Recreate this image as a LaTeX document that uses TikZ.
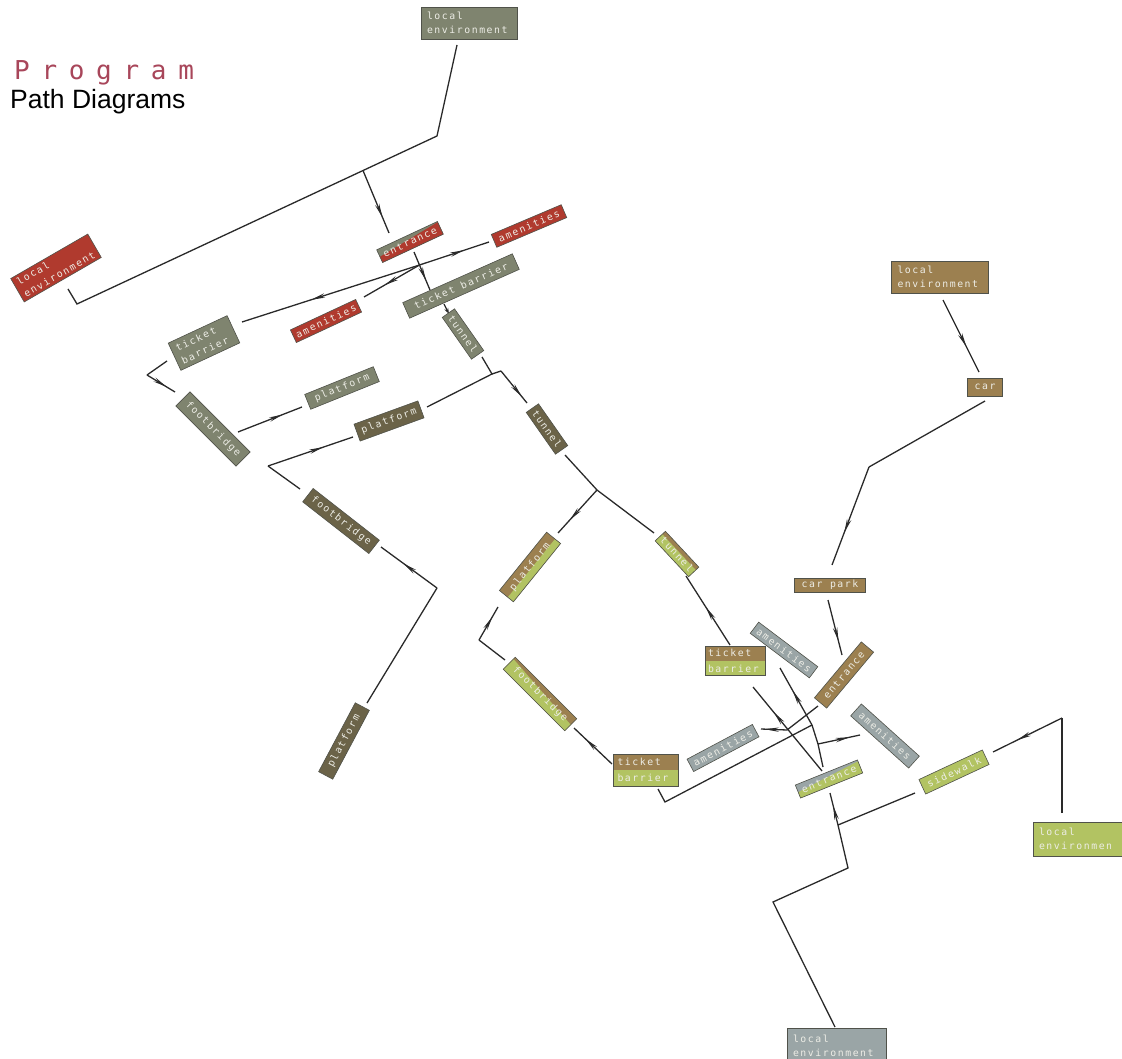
\documentclass[tikz,border=0pt]{standalone}
\usepackage{fontspec}
\setmainfont{Liberation Sans}
\newfontfamily\labfont[LetterSpace=16]{DejaVu Sans Mono}
\newfontfamily\titfont[LetterSpace=45]{DejaVu Sans Mono}
\usetikzlibrary{arrows.meta,decorations.markings,calc}
\pgfdeclarelayer{bgl}\pgfdeclarelayer{fills}\pgfsetlayers{bgl,fills,main}
\definecolor{gg}{HTML}{7F846F}
\definecolor{rd}{HTML}{B03A2E}
\definecolor{dk}{HTML}{6B6348}
\definecolor{br}{HTML}{9C8050}
\definecolor{lm}{HTML}{B2C362}
\definecolor{bl}{HTML}{9AA5A6}
\definecolor{bd}{HTML}{50524A}
\definecolor{tx}{HTML}{EDEDE6}
\definecolor{lnc}{HTML}{2A2A2A}
\definecolor{titc}{HTML}{A8465A}
\newcommand\labsz{\labfont\fontsize{9.8}{14}\selectfont}
\newcommand\labszb{\labfont\fontsize{9.8}{16}\selectfont}
\newcommand\twotone[5]{%
 \begin{pgfonlayer}{fills}
 \fill[#2] (#1.north west) -- (#1.north east) -- (#1.south east) -- (#1.south west) -- cycle;
 \fill[#3] (#1.south west) -- (#1.south east) -- ($(#1.south east)!#5!(#1.north east)$) -- ($(#1.south west)!#4!(#1.north west)$) -- cycle;
 \end{pgfonlayer}}
\begin{document}
\begin{tikzpicture}[x=1pt,y=-1pt,
 box/.style={draw=bd, line width=0.6pt, inner sep=0pt, outer sep=0pt, text=tx, font=\labsz},
 ln/.style={draw=lnc, line width=1.3pt},
 mid/.style={postaction={decorate}, decoration={markings, mark=at position #1 with {\arrow{Stealth[length=14pt,width=4.4pt]}}}},
 tipend/.style={-{Stealth[length=6pt,width=4pt]}},
]
\useasboundingbox (0,0) rectangle (1122,1059);

% titles
\node[anchor=base west, inner sep=0pt, text=titc, font=\titfont\fontsize{26}{30}\selectfont] (title) at (14,80) {Program};
\node[anchor=base west, inner sep=0pt, font=\fontsize{26.5}{30}\selectfont] (sub) at (10,109) {Path Diagrams};

% grey-green / red group
\node[box, fill=gg, minimum width=96pt, minimum height=32pt, align=left, text width=84pt] (topenv) at (469,23) {local\\environment};
\node[box, fill=rd, minimum width=89pt, minimum height=27pt, align=left, text width=81pt, rotate=30] (redenv) at (56,268) {local\\environment};
\node[box, minimum width=67pt, minimum height=14pt, rotate=25] (ent1) at (410,242) {entrance};
\twotone{ent1}{gg}{rd}{0.45}{0.95}
\node[box, fill=rd, minimum width=76pt, minimum height=14pt, rotate=23] (amR1) at (529,226) {amenities};
\node[box, fill=gg, minimum width=120pt, minimum height=17pt, rotate=24] (tbar1) at (461,286) {ticket barrier};
\node[box, fill=rd, minimum width=72pt, minimum height=14pt, rotate=25] (amR2) at (326,321) {amenities};
\node[box, fill=gg, minimum width=65pt, minimum height=30pt, align=left, text width=55pt, rotate=25] (tbar2) at (204,343) {ticket\\barrier};
\node[box, fill=gg, minimum width=85pt, minimum height=20pt, rotate=-45] (foot1) at (213,429) {footbridge};
\node[box, fill=gg, minimum width=74pt, minimum height=16pt, rotate=22] (plat1) at (342,388) {platform};
\node[box, fill=gg, minimum width=51pt, minimum height=15pt, rotate=-55] (tun1) at (463,334) {tunnel};

% dark olive group
\node[box, fill=dk, minimum width=68pt, minimum height=18pt, rotate=20] (plat2) at (389,421) {platform};
\node[box, fill=dk, minimum width=51pt, minimum height=15pt, rotate=-55] (tun2) at (547,429) {tunnel};
\node[box, fill=dk, minimum width=84pt, minimum height=17pt, rotate=-38] (foot2) at (341,521) {footbridge};
\node[box, fill=dk, minimum width=78pt, minimum height=16pt, rotate=62] (plat3) at (344,741) {platform};

% brown / green group
\node[box, minimum width=75pt, minimum height=18pt, rotate=51] (plat4) at (530,567) {platform};
\twotone{plat4}{br}{lm}{0.4}{0.4}
\node[box, minimum width=49pt, minimum height=14pt, rotate=-47] (tun3) at (677,554) {tunnel};
\twotone{tun3}{br}{lm}{0.7}{0.7}
\node[box, minimum width=87pt, minimum height=17pt, rotate=-45] (foot3) at (540,694) {footbridge};
\twotone{foot3}{br}{lm}{0.85}{0.5}
\node[box, minimum width=65pt, minimum height=32pt, align=left, text width=57pt, font=\labszb] (tbar3) at (646,770) {ticket\\barrier};
\twotone{tbar3}{br}{lm}{0.5}{0.5}
\node[box, minimum width=60pt, minimum height=29pt, align=left, text width=54pt, font=\labszb] (tbar4) at (735,661) {ticket\\barrier};
\twotone{tbar4}{br}{lm}{0.5}{0.5}
\node[box, fill=br, minimum width=71pt, minimum height=14pt] (carpark) at (830,585) {car park};
\node[box, fill=br, minimum width=73pt, minimum height=16pt, rotate=50] (ent2) at (844,675) {entrance};
\node[box, fill=br, minimum width=97pt, minimum height=32pt, align=left, text width=85pt] (envBr) at (940,277) {local\\environment};
\node[box, fill=br, minimum width=35pt, minimum height=18pt] (car) at (985,387) {car};

% blue-grey / green group
\node[box, fill=bl, minimum width=74pt, minimum height=14pt, rotate=-37] (amB1) at (784,650) {amenities};
\node[box, fill=bl, minimum width=74pt, minimum height=14pt, rotate=28] (amB2) at (723,748) {amenities};
\node[box, fill=bl, minimum width=78pt, minimum height=16pt, rotate=-42] (amB3) at (885,736) {amenities};
\node[box, minimum width=67pt, minimum height=14pt, rotate=22] (ent3) at (829,779) {entrance};
\twotone{ent3}{bl}{lm}{0.45}{0.9}
\node[box, fill=lm, minimum width=70pt, minimum height=16pt, rotate=25] (side) at (954,772) {sidewalk};
\node[box, fill=lm, minimum width=100pt, minimum height=34pt, align=left, text width=88pt] (envG) at (1083,839) {local\\environmen};
\node[box, fill=bl, minimum width=99pt, minimum height=36pt, align=left, text width=87pt] (envB) at (836.5,1046) {local\\environment};

% connector points
\coordinate (te1) at (457,45); \coordinate (te2) at (437,136); \coordinate (te3) at (77,304); \coordinate (te4) at (68,289);
\coordinate (j0) at (363,170.5); \coordinate (e1a) at (389,233);
\coordinate (e1b) at (414,252); \coordinate (tb1a) at (430,290); \coordinate (j1) at (419.5,265);
\coordinate (ar1) at (489,242); \coordinate (tb2a) at (242,322); \coordinate (am2a) at (364,297);
\coordinate (tb1b) at (444,304); \coordinate (tun1a) at (449,314);
\coordinate (tb2b) at (167,361); \coordinate (k1) at (147,375); \coordinate (fb1a) at (175,392);
\coordinate (fb1b) at (238,432); \coordinate (pl1a) at (302,407);
\coordinate (tun1b) at (482,357); \coordinate (j2) at (492,374); \coordinate (j2b) at (501,371);
\coordinate (tun2a) at (527,403); \coordinate (pl2a) at (427,407);
\coordinate (pl2b) at (353,437); \coordinate (k2) at (268,466); \coordinate (fb2a) at (300,489);
\coordinate (fb2b) at (381,547); \coordinate (k3) at (437,588); \coordinate (pl3a) at (367,703);
\coordinate (tun2b) at (565,455); \coordinate (j3) at (597,490); \coordinate (pl4a) at (558,533); \coordinate (tun3a) at (654,533);
\coordinate (tun3b) at (686,576); \coordinate (tb4a) at (730,645);
\coordinate (pl4b) at (498,607); \coordinate (k4) at (479,640); \coordinate (fb3a) at (505,660);
\coordinate (fb3b) at (574,728); \coordinate (tb3a) at (612,764);
\coordinate (tb3b) at (658,789); \coordinate (k5) at (665,802); \coordinate (j6) at (812,725);
\coordinate (amB1a) at (780,668); \coordinate (j7) at (818,744); \coordinate (ent3a) at (823,767); \coordinate (amB3a) at (860,735);
\coordinate (ent2a) at (818,706); \coordinate (j5) at (787,730); \coordinate (amB2a) at (761,729);
\coordinate (tb4b) at (753,687); \coordinate (ent3b) at (822,771);
\coordinate (ent3c) at (830,793); \coordinate (j4) at (838,825); \coordinate (k6) at (848,868); \coordinate (k7) at (773,902); \coordinate (envBa) at (835,1027);
\coordinate (sw1) at (915,793); \coordinate (sw2) at (993,752); \coordinate (k8) at (1062,718); \coordinate (envGa) at (1062,813);
\coordinate (envBra) at (943,300); \coordinate (cara) at (979,372);
\coordinate (carb) at (985,401); \coordinate (k9) at (869,467); \coordinate (cpa) at (832,565);
\coordinate (cpb) at (828,600); \coordinate (ent2b) at (842,655);

\begin{pgfonlayer}{bgl}
\draw[ln] (te1) -- (te2) -- (te3) -- (te4);
\draw[ln, mid=0.75] (j0) -- (e1a);
\draw[ln, mid=0.75] (e1b) -- (tb1a);
\draw[ln, mid=0.64] (j1) -- (ar1);
\draw[ln, mid=0.61] (j1) -- (tb2a);
\draw[ln, mid=0.63] (j1) -- (am2a);
\draw[ln, tipend] (tb1b) -- (tun1a);
\draw[ln] (tb2b) -- (k1);
\draw[ln, mid=0.7] (k1) -- (fb1a);
\draw[ln, mid=0.7] (fb1b) -- (pl1a);
\draw[ln] (tun1b) -- (j2) -- (pl2a);
\draw[ln] (j2) -- (j2b);
\draw[ln, mid=0.8] (j2b) -- (tun2a);
\draw[ln] (fb2a) -- (k2);
\draw[ln, mid=0.65] (k2) -- (pl2b);
\draw[ln] (pl3a) -- (k3);
\draw[ln, mid=0.6] (k3) -- (fb2b);
\draw[ln] (tun2b) -- (j3) -- (tun3a);
\draw[ln, mid=0.7] (j3) -- (pl4a);
\draw[ln, mid=0.55] (tb4a) -- (tun3b);
\draw[ln] (fb3a) -- (k4);
\draw[ln, mid=0.7] (k4) -- (pl4b);
\draw[ln, mid=0.7] (tb3a) -- (fb3b);
\draw[ln] (tb3b) -- (k5) -- (j6);
\draw[ln, mid=0.6] (j6) -- (amB1a);
\draw[ln] (j6) -- (j7) -- (ent3a);
\draw[ln, mid=0.75] (j7) -- (amB3a);
\draw[ln] (ent2a) -- (j5);
\draw[ln, mid=0.85] (j5) -- (amB2a);
\draw[ln, mid=0.7] (ent3b) -- (tb4b);
\draw[ln] (envBa) -- (k7) -- (k6) -- (j4);
\draw[ln, mid=0.6] (j4) -- (ent3c);
\draw[ln] (j4) -- (sw1);
\draw[ln] (envGa) -- (k8);
\draw[ln, mid=0.65] (k8) -- (sw2);
\draw[ln, mid=0.65] (envBra) -- (cara);
\draw[ln] (carb) -- (k9);
\draw[ln, mid=0.67] (k9) -- (cpa);
\draw[ln, mid=0.75] (cpb) -- (ent2b);
\end{pgfonlayer}
\end{tikzpicture}
\end{document}
